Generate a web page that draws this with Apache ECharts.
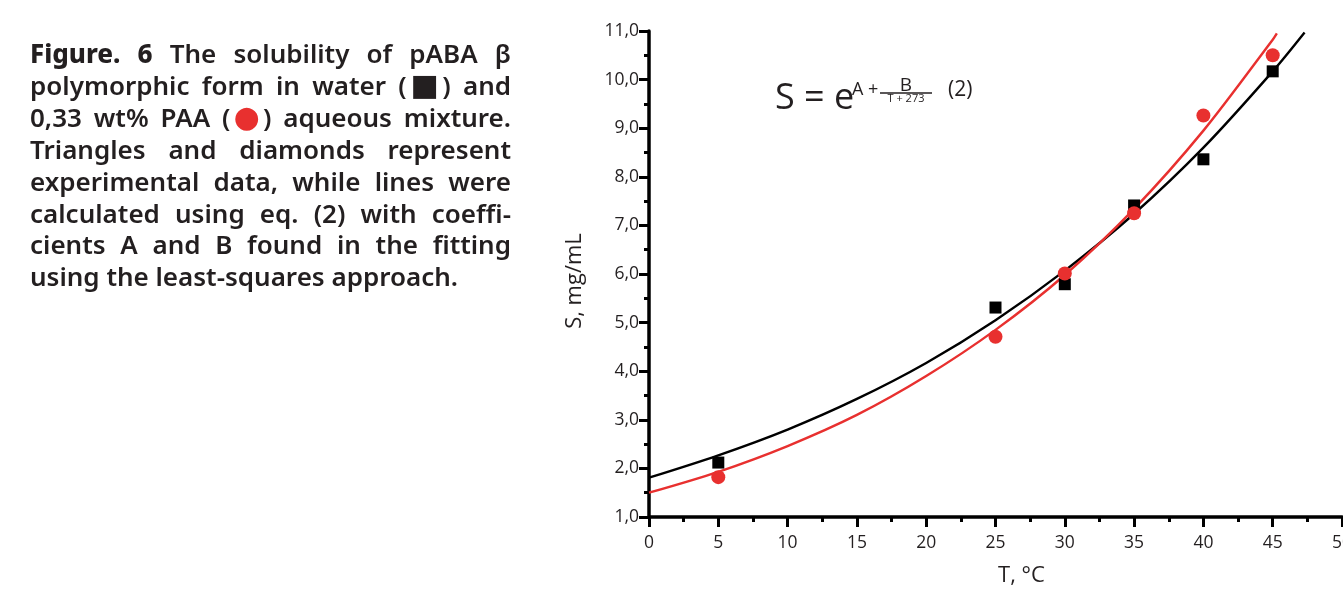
<!DOCTYPE html>
<html>
<head>
<meta charset="utf-8">
<script src="https://cdn.jsdelivr.net/npm/echarts@6/dist/echarts.min.js"></script>
<style>
  html, body { margin: 0; padding: 0; background: #fff; }
  #chart { position: absolute; left: 0; top: 0; width: 1343px; height: 590px; }
  #caption {
    position: absolute; left: 30px; top: 38px; width: 481px;
    font-family: "Noto Sans", Lato, sans-serif; font-size: 26px; line-height: 31.9px;
    color: #231f20; font-weight: 600;
  }
  #caption div { text-align: justify; text-align-last: justify; white-space: nowrap; }
  #caption div.last { text-align-last: left; }
  #caption b { font-weight: 800; }
  .mark { font-family: "DejaVu Sans", sans-serif; font-size: 30px; line-height: 10px; margin: 0 -2px; }
  .red { color: #e8302f; }
</style>
</head>
<body>
<div id="chart"></div>
<div id="caption">
  <div><b>Figure. 6</b> The solubility of pABA β</div>
  <div>polymorphic form in water (<span class="mark">■</span>) and</div>
  <div>0,33 wt% PAA (<span class="mark red">●</span>) aqueous mixture.</div>
  <div>Triangles and diamonds represent</div>
  <div>experimental data, while lines were</div>
  <div>calculated using eq. (2) with coeffi-</div>
  <div>cients A and B found in the fitting</div>
  <div class="last">using the least-squares approach.</div>
</div>
<script>
// measured points
const tempPoints = [5, 25, 30, 35, 40, 45];
const waterS = [2.12, 5.31, 5.79, 7.41, 8.36, 10.17];
const paaS = [1.82, 4.71, 6.01, 7.25, 9.26, 10.5];

// fitted curves
const waterFitT = [0, 5, 10, 15, 20, 25, 30, 35, 40, 45, 47.3];
const waterFitS = [1.81, 2.27, 2.8, 3.43, 4.17, 5.05, 6.07, 7.24, 8.6, 10.17, 10.97];
const paaFitT = [0, 5, 10, 15, 20, 25, 30, 35, 40, 45, 45.3];
const paaFitS = [1.5, 1.93, 2.46, 3.1, 3.9, 4.85, 5.98, 7.34, 8.95, 10.82, 10.95];

const pairs = (xs, ys) => xs.map((x, i) => [x, ys[i]]);

const chart = echarts.init(document.getElementById('chart'));

const axisFont = { fontFamily: 'Open Sans', fontSize: 17.5, color: '#231f20' };
const nameFont = { fontFamily: 'Open Sans', fontSize: 22, color: '#231f20' };

function axisStyle() {
  return {
    axisLine: { show: true, onZero: false, lineStyle: { color: '#000', width: 3.5 } },
    axisTick: { show: true, length: 10, lineStyle: { color: '#000', width: 3 } },
    minorTick: { show: true, splitNumber: 2, length: 5, lineStyle: { color: '#000', width: 3 } },
    splitLine: { show: false },
  };
}

chart.setOption({
  animation: false,
  grid: { left: 649, top: 31, right: 1, bottom: 73, outerBoundsMode: 'none', containLabel: false },
  xAxis: Object.assign({
    type: 'value',
    min: 0,
    max: 50,
    interval: 5,
    name: 'T, °C',
    nameLocation: 'middle',
    nameGap: 48,
    nameTextStyle: Object.assign({ padding: [0, 0, 0, 52] }, nameFont),
    axisLabel: Object.assign({ margin: 17, showMaxLabel: true }, axisFont),
  }, axisStyle()),
  yAxis: Object.assign({
    type: 'value',
    min: 1,
    max: 11,
    interval: 1,
    name: 'S, mg/mL',
    nameLocation: 'middle',
    nameGap: 63,
    nameRotate: 90,
    nameTextStyle: Object.assign({ padding: [0, 14, 0, 0] }, nameFont),
    axisLabel: Object.assign({
      margin: 10,
      formatter: v => v.toFixed(1).replace('.', ','),
    }, axisFont),
  }, axisStyle()),
  graphic: [
    { type: 'text', left: 775, top: 81, style: { text: 'S = e', font: '36px "Open Sans"', fill: '#231f20' } },
    { type: 'text', left: 852, top: 81, style: { text: 'A +', font: '18px "Open Sans"', fill: '#231f20' } },
    { type: 'line', shape: { x1: 880, y1: 93, x2: 932, y2: 93 }, style: { stroke: '#231f20', lineWidth: 1.5 } },
    { type: 'text', x: 906, y: 86, style: { text: 'B', font: '19px "Open Sans"', fill: '#231f20', align: 'center', verticalAlign: 'middle' } },
    { type: 'text', x: 906, y: 99, style: { text: 'T + 273', font: '11px "Open Sans"', fill: '#231f20', align: 'center', verticalAlign: 'middle' } },
    { type: 'text', x: 948, y: 90, style: { text: '(2)', font: '21px "Open Sans"', fill: '#231f20', verticalAlign: 'middle' } },
  ],
  series: [
    {
      type: 'line',
      data: pairs(waterFitT, waterFitS),
      smooth: 0.3,
      showSymbol: false,
      lineStyle: { color: '#000', width: 2.4 },
      z: 2,
    },
    {
      type: 'line',
      data: pairs(paaFitT, paaFitS),
      smooth: 0.3,
      showSymbol: false,
      lineStyle: { color: '#e8302f', width: 2.4 },
      z: 2,
    },
    {
      type: 'scatter',
      data: pairs(tempPoints, waterS),
      symbol: 'rect',
      symbolSize: 12,
      itemStyle: { color: '#000', opacity: 1 },
      z: 3,
    },
    {
      type: 'scatter',
      data: pairs(tempPoints, paaS),
      symbol: 'circle',
      symbolSize: 14,
      itemStyle: { color: '#e8302f', opacity: 1 },
      z: 4,
    },
  ],
});
</script>
</body>
</html>
